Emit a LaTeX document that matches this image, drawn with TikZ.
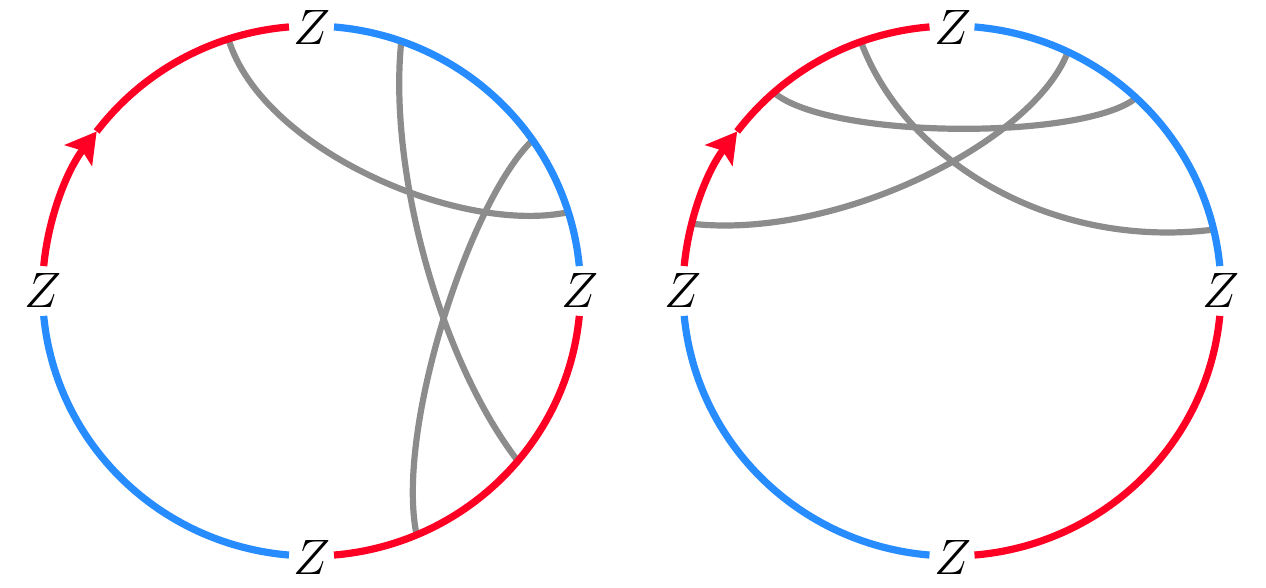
\documentclass[tikz,border=0pt]{standalone}
\usetikzlibrary{arrows.meta,calc}
\definecolor{zred}{RGB}{255,0,36}
\definecolor{zblue}{RGB}{38,140,255}
\definecolor{zgray}{RGB}{140,140,140}
\begin{document}
\begin{tikzpicture}[x=0.5pt,y=0.5pt,
  rim/.style={line width=3.6pt},
  chord/.style={zgray,line width=3.1pt},
  lab/.style={inner sep=0pt,font=\fontsize{24}{24}\selectfont},
  tip/.style={-{Stealth[length=15pt,width=17pt,inset=3pt]}},
  er/.style={x radius=269,y radius=265}]
\useasboundingbox (0,0) rectangle (1266,588);
\coordinate (L) at (311.5,297);
\coordinate (R) at (952,297);
% chord end points
\coordinate (a1) at ($(L)+(108:269 and 265)$);
\coordinate (a2) at ($(L)+(17.3:269 and 265)$);
\coordinate (b1) at ($(L)+(70.5:269 and 265)$);
\coordinate (b2) at ($(L)+(-39.9:269 and 265)$);
\coordinate (c1) at ($(L)+(34.7:269 and 265)$);
\coordinate (c2) at ($(L)+(-67:269 and 265)$);
\coordinate (d1) at ($(R)+(131.5:269 and 265)$);
\coordinate (d2) at ($(R)+(46.8:269 and 265)$);
\coordinate (e1) at ($(R)+(109.8:269 and 265)$);
\coordinate (e2) at ($(R)+(13.4:269 and 265)$);
\coordinate (f1) at ($(R)+(64.5:269 and 265)$);
\coordinate (f2) at ($(R)+(165.3:269 and 265)$);
% chords
\draw[chord] (a1) .. controls (262,438) and (460,353) .. (a2);
\draw[chord] (b1) .. controls (388,418) and (440,228) .. (b2);
\draw[chord] (c1) .. controls (470,388) and (395,158) .. (c2);
\draw[chord] (d1) .. controls (830,448) and (1085,448) .. (d2);
\draw[chord] (e1) .. controls (905,428) and (1050,338) .. (e2);
\draw[chord] (f1) .. controls (1035,448) and (840,348) .. (f2);
% rims
\foreach \c in {L,R}{
  \draw[rim,zred,tip] ($(\c)+(174.6:269 and 265)$) arc[start angle=174.6,end angle=143,er];
  \draw[rim,zred] ($(\c)+(143:269 and 265)$) arc[start angle=143,end angle=94.8,er];
  \draw[rim,zblue] ($(\c)+(85.2:269 and 265)$) arc[start angle=85.2,end angle=5.4,er];
  \draw[rim,zred] ($(\c)+(354.6:269 and 265)$) arc[start angle=354.6,end angle=274.8,er];
  \draw[rim,zblue] ($(\c)+(265.2:269 and 265)$) arc[start angle=265.2,end angle=185.4,er];
}
% labels
\node[lab] (Lt) at (311.5,560.5) {$Z$};
\node[lab] (Lb) at (311.5,30) {$Z$};
\node[lab] (Ll) at (42.5,297) {$Z$};
\node[lab] (Lr) at (580,297) {$Z$};
\node[lab] (Rt) at (953,560.5) {$Z$};
\node[lab] (Rb) at (953,30) {$Z$};
\node[lab] (Rl) at (683,297) {$Z$};
\node[lab] (Rr) at (1221,297) {$Z$};
\end{tikzpicture}
\end{document}
